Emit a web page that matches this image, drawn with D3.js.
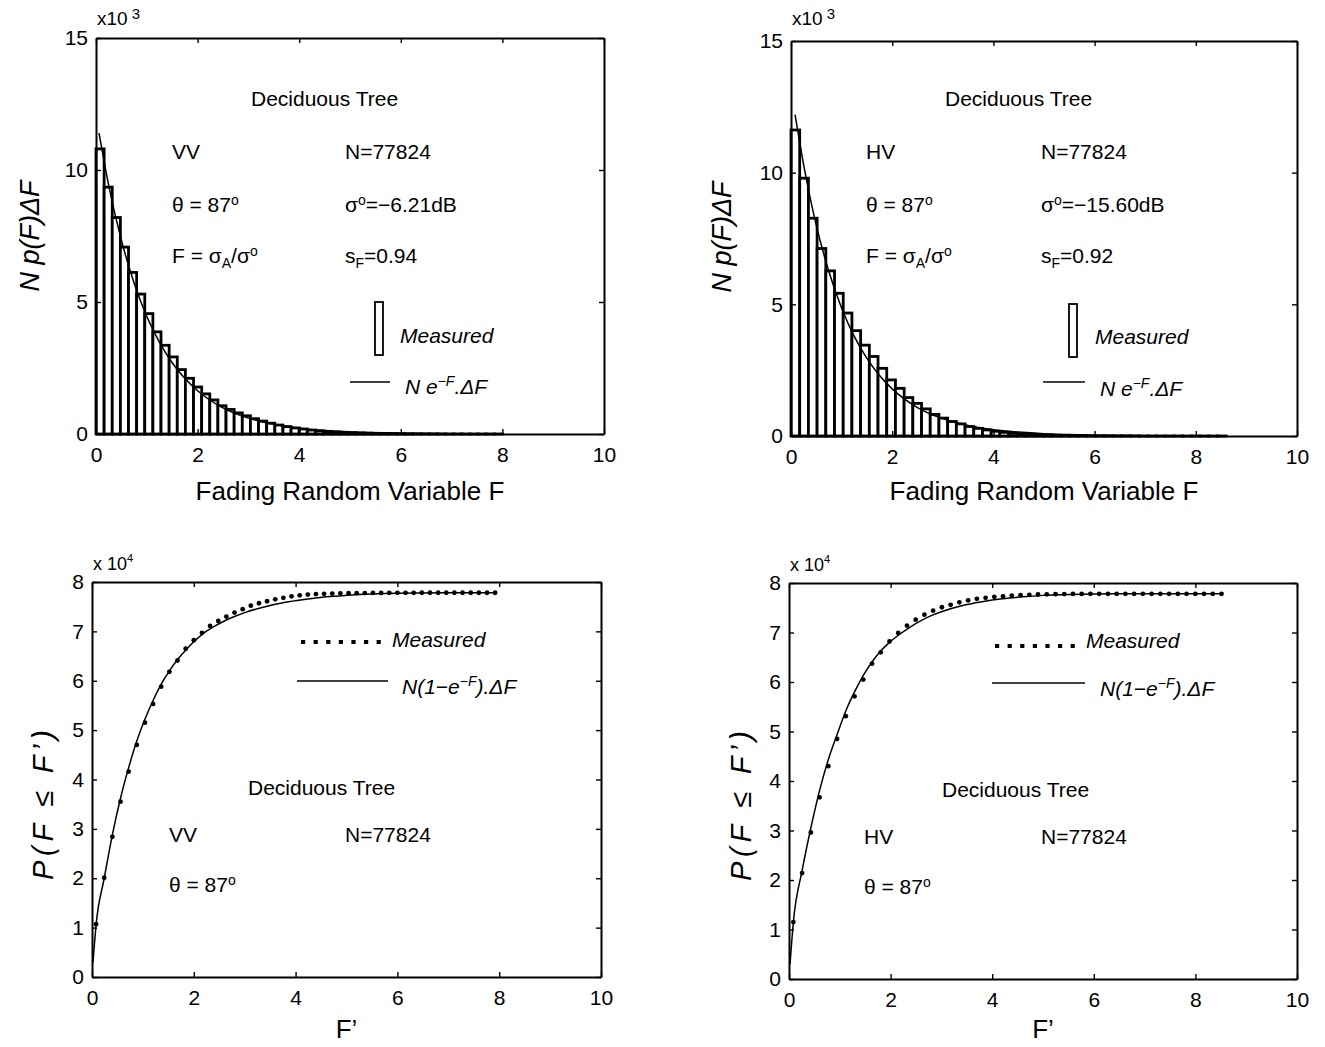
<!DOCTYPE html>
<html><head><meta charset="utf-8">
<script src="https://cdn.jsdelivr.net/npm/d3@7"></script>
<style>
body{margin:0;background:#fff}
svg{display:block}
text{font-family:"Liberation Sans",Arial,Helvetica,sans-serif;fill:#000}
</style>
</head><body>
<svg id="c" width="1325" height="1047"></svg>
<script>
// ---------------- DATA ----------------
const xTicks = [0, 2, 4, 6, 8, 10];
const histYTicks = [0, 5, 10, 15];
const cumYTicks = [0, 1, 2, 3, 4, 5, 6, 7, 8];

const vvBinWidth = 0.16;   // ΔF for VV histogram
const hvBinWidth = 0.172;  // ΔF for HV histogram

// measured histograms (x10^3)
const vvHist = [10.8, 9.35, 8.2, 7.08, 6.12, 5.3, 4.56, 3.87, 3.36, 2.92, 2.44, 2.11, 1.78, 1.52, 1.29, 1.07, 0.93, 0.8, 0.69, 0.58,
  0.49, 0.41, 0.34, 0.28, 0.23, 0.19, 0.15, 0.12, 0.10, 0.08, 0.065, 0.05, 0.04, 0.032, 0.026, 0.02, 0.016, 0.013, 0.01, 0.008,
  0.006, 0.005, 0.004, 0.003, 0.0025, 0.002, 0.0015, 0.001, 0.001, 0.001];
const hvHist = [11.62, 9.79, 8.27, 7.12, 6.27, 5.42, 4.67, 4.0, 3.45, 3.02, 2.57, 2.13, 1.81, 1.46, 1.24, 1.03, 0.82, 0.68, 0.55, 0.46,
  0.36, 0.29, 0.23, 0.18, 0.14, 0.11, 0.085, 0.065, 0.05, 0.04, 0.03, 0.024, 0.018, 0.014, 0.011, 0.009, 0.007, 0.005, 0.004, 0.003,
  0.0025, 0.002, 0.0015, 0.001, 0.001, 0.001, 0.0008, 0.0006, 0.0005, 0.0005];

// theoretical N e^-F ΔF (x10^3)
const vvFitF = [0.06, 0.25, 0.5, 0.75, 1, 1.25, 1.5, 1.75, 2, 2.5, 3, 3.5, 4, 4.5, 5, 5.5, 6, 7, 8];
const vvFitV = [11.4, 9.42, 7.34, 5.72, 4.45, 3.47, 2.7, 2.1, 1.64, 0.99, 0.6, 0.37, 0.22, 0.13, 0.08, 0.05, 0.03, 0.01, 0.004];
const hvFitF = [0.08, 0.25, 0.5, 0.75, 1, 1.25, 1.5, 1.75, 2, 2.5, 3, 3.5, 4, 4.5, 5, 5.5, 6, 7, 8.5];
const hvFitV = [12.2, 10.3, 8.0, 6.24, 4.86, 3.78, 2.95, 2.3, 1.79, 1.08, 0.66, 0.4, 0.24, 0.15, 0.09, 0.054, 0.033, 0.012, 0.003];

// measured cumulative (x10^4), one per histogram bin
const vvCum = [1.07, 2.01, 2.84, 3.55, 4.16, 4.70, 5.15, 5.53, 5.88, 6.18, 6.41, 6.65, 6.82, 6.97, 7.11, 7.21, 7.30, 7.38, 7.45, 7.52,
  7.57, 7.61, 7.65, 7.68, 7.71, 7.73, 7.745, 7.755, 7.76, 7.765, 7.77, 7.772, 7.774, 7.776, 7.778, 7.779, 7.78, 7.78, 7.781, 7.781,
  7.782, 7.782, 7.782, 7.782, 7.782, 7.782, 7.782, 7.782, 7.782, 7.782];
const hvCum = [1.15, 2.14, 2.96, 3.67, 4.30, 4.85, 5.31, 5.71, 6.05, 6.37, 6.60, 6.82, 6.99, 7.14, 7.26, 7.36, 7.44, 7.51, 7.56, 7.61,
  7.65, 7.68, 7.70, 7.72, 7.73, 7.745, 7.755, 7.762, 7.768, 7.772, 7.775, 7.777, 7.779, 7.78, 7.781, 7.782, 7.782, 7.782, 7.782, 7.782,
  7.782, 7.782, 7.782, 7.782, 7.782, 7.782, 7.782, 7.782, 7.782, 7.782];

// theoretical cumulative N(1-e^-F) (x10^4)
const vvCumFitF = [0.02, 0.08, 0.24, 0.4, 0.56, 0.72, 0.88, 1.04, 1.2, 1.36, 1.52, 1.68, 1.84, 2.0, 2.2, 2.4, 2.6, 2.8, 3.0, 3.4, 3.8, 4.2, 4.6, 5, 5.5, 6, 7, 7.9];
const vvCumFitV = [0.3, 1.05, 2.0, 2.88, 3.62, 4.24, 4.78, 5.22, 5.6, 5.93, 6.2, 6.43, 6.62, 6.79, 6.97, 7.1, 7.21, 7.3, 7.38, 7.5, 7.59, 7.65, 7.7, 7.73, 7.755, 7.77, 7.78, 7.782];
const hvCumFitF = [0.02, 0.086, 0.26, 0.43, 0.6, 0.77, 0.95, 1.12, 1.3, 1.46, 1.63, 1.8, 2.0, 2.2, 2.4, 2.6, 2.8, 3.0, 3.4, 3.8, 4.2, 4.6, 5, 5.5, 6, 7, 8.5];
const hvCumFitV = [0.3, 1.15, 2.2, 3.05, 3.8, 4.42, 4.95, 5.42, 5.82, 6.13, 6.4, 6.62, 6.82, 6.98, 7.12, 7.24, 7.34, 7.42, 7.54, 7.62, 7.68, 7.72, 7.75, 7.77, 7.78, 7.782, 7.782];

// ---------------- DRAWING ----------------
const svg = d3.select("#c");
const FONT = "\"Liberation Sans\",Arial,Helvetica,sans-serif";

function rich(g, x, y, parts, size, opts = {}) {
  const t = g.append("text").attr("x", x).attr("y", y)
    .attr("font-size", size)
    .attr("text-anchor", opts.anchor || "start")
    .attr("font-style", opts.italic ? "italic" : "normal");
  let shift = 0;
  parts.forEach(p => {
    const small = p.size || Math.round(size * 0.68);
    const target = p.sup ? -(p.raise || size * 0.42) : p.sub ? size * 0.25 : 0;
    const ts = t.append("tspan").attr("dy", target - shift).text(p.t);
    if (p.sup || p.sub) ts.attr("font-size", small);
    shift = target;
  });
  return t;
}

function panel(cfg) {
  const g = svg.append("g");
  const x = d3.scaleLinear().domain([0, 10]).range([cfg.x0, cfg.x1]);
  const y = d3.scaleLinear().domain([0, cfg.ymax]).range([cfg.y1, cfg.y0]);
  cfg.draw(g, x, y);

  const ax = (gen, tx, ty, labels) => {
    const a = g.append("g").attr("transform", `translate(${tx},${ty})`).call(gen);
    a.selectAll("text").attr("font-size", 21).attr("font-family", FONT).attr("fill", "#000");
    a.selectAll("line").attr("stroke", "#000").attr("stroke-width", 1.4);
    a.select(".domain").attr("stroke", "#000").attr("stroke-width", 2);
    if (!labels) a.selectAll("text").remove();
    return a;
  };
  ax(d3.axisBottom(x).tickValues(xTicks).tickFormat(d3.format("d")).tickSize(-5).tickSizeOuter(0).tickPadding(13), 0, cfg.y1, true);
  ax(d3.axisTop(x).tickValues(xTicks).tickSize(-5).tickSizeOuter(0), 0, cfg.y0, false);
  ax(d3.axisLeft(y).tickValues(cfg.yTicks).tickFormat(d3.format("d")).tickSize(-5).tickSizeOuter(0).tickPadding(8), cfg.x0, 0, true);
  ax(d3.axisRight(y).tickValues(cfg.yTicks).tickSize(-5).tickSizeOuter(0), cfg.x1, 0, false);
  return {g, x, y};
}

function histPanel(cfg) {
  const p = panel(Object.assign({ymax: 15, yTicks: histYTicks, draw: (g, x, y) => {
    g.selectAll("rect.bar").data(cfg.hist).join("rect").attr("class", "bar")
      .attr("x", (d, i) => x(i * cfg.bw))
      .attr("width", (d, i) => x((i + 1) * cfg.bw) - x(i * cfg.bw))
      .attr("y", d => y(d))
      .attr("height", d => y(0) - y(d))
      .attr("fill", "#fff").attr("stroke", "#000").attr("stroke-width", 2.8);
    const line = d3.line().x(d => x(d[0])).y(d => y(d[1])).curve(d3.curveMonotoneX);
    g.append("path").datum(cfg.fitF.map((f, i) => [f, cfg.fitV[i]]))
      .attr("d", line).attr("fill", "none").attr("stroke", "#000").attr("stroke-width", 1.5);
  }}, cfg));
  const g = p.g;
  // exponent label
  rich(g, cfg.x0 + 1, 25, [{t: "x10"}, {t: " 3", sup: true, size: 15, raise: 6}], 19);
  // axis labels
  g.append("text").attr("x", (cfg.x0 + cfg.x1) / 2).attr("y", 500).attr("text-anchor", "middle")
    .attr("font-size", 26).text("Fading Random Variable F");
  g.append("text").attr("transform", `translate(${cfg.ylx},${cfg.yly}) rotate(-90)`)
    .attr("text-anchor", "middle").attr("dy", "0.35em").attr("font-size", 27).attr("font-style", "italic")
    .text("N p(F)ΔF");
  // annotations
  const c1 = cfg.c1, c2 = cfg.c2;
  rich(g, cfg.treeX, 106, [{t: "Deciduous Tree"}], 21);
  rich(g, c1, 159, [{t: cfg.pol}], 21);
  rich(g, c2, 159, [{t: "N=77824"}], 21);
  rich(g, c1, 212, [{t: "θ = 87"}, {t: "o", sup: true, raise: 7}], 21);
  rich(g, c2, 212, [{t: "σ"}, {t: "o", sup: true, raise: 7}, {t: cfg.sigma}], 21);
  rich(g, c1, 263, [{t: "F = σ"}, {t: "A", sub: true}, {t: "/σ"}, {t: "o", sup: true, raise: 7}], 21);
  rich(g, c2, 263, [{t: "s"}, {t: "F", sub: true}, {t: cfg.sf}], 21);
  // legend
  g.append("rect").attr("x", cfg.lgRect[0]).attr("y", cfg.lgRect[1]).attr("width", 8).attr("height", 53)
    .attr("fill", "#fff").attr("stroke", "#000").attr("stroke-width", 1.8);
  rich(g, cfg.lgText1[0], cfg.lgText1[1], [{t: "Measured"}], 21, {italic: true});
  g.append("line").attr("x1", cfg.lgLine[0]).attr("x2", cfg.lgLine[1]).attr("y1", cfg.lgLine[2]).attr("y2", cfg.lgLine[2])
    .attr("stroke", "#000").attr("stroke-width", 1.5);
  rich(g, cfg.lgText2[0], cfg.lgText2[1], [{t: "N e"}, {t: "−F", sup: true, raise: 8}, {t: ".ΔF"}], 21, {italic: true});
}

function cumPanel(cfg) {
  const p = panel(Object.assign({ymax: 8, yTicks: cumYTicks, draw: (g, x, y) => {
    const line = d3.line().x(d => x(d[0])).y(d => y(d[1])).curve(d3.curveMonotoneX);
    g.append("path").datum(cfg.fitF.map((f, i) => [f, cfg.fitV[i]]))
      .attr("d", line).attr("fill", "none").attr("stroke", "#000").attr("stroke-width", 1.5);
    g.selectAll("circle.dot").data(cfg.cum).join("circle").attr("class", "dot")
      .attr("cx", (d, i) => x((i + 0.5) * cfg.bw)).attr("cy", d => y(d)).attr("r", 2.4).attr("fill", "#000");
  }}, cfg));
  const g = p.g;
  rich(g, cfg.x0 + 1, cfg.y0 - 12, [{t: "x 10"}, {t: "4", sup: true, size: 11, raise: 8}], 18);
  g.append("text").attr("x", (cfg.x0 + cfg.x1) / 2).attr("y", 1038).attr("text-anchor", "middle")
    .attr("font-size", 26).text("F’");
  g.append("text").attr("transform", `translate(${cfg.ylx},${cfg.yly}) rotate(-90)`)
    .attr("text-anchor", "middle").attr("dy", "0.35em").attr("font-size", 29).attr("font-style", "italic")
    .attr("textLength", 150).attr("lengthAdjust", "spacing")
    .text("P(F ≤ F’)");
  rich(g, cfg.treeX, cfg.treeY, [{t: "Deciduous Tree"}], 21);
  rich(g, cfg.c1, cfg.treeY + 47, [{t: cfg.pol}], 21);
  rich(g, cfg.c2, cfg.treeY + 47, [{t: "N=77824"}], 21);
  rich(g, cfg.c1, cfg.treeY + 97, [{t: "θ = 87"}, {t: "o", sup: true, raise: 7}], 21);
  // legend
  g.append("line").attr("x1", cfg.lgDots[0]).attr("x2", cfg.lgDots[1]).attr("y1", cfg.lgDots[2]).attr("y2", cfg.lgDots[2])
    .attr("stroke", "#000").attr("stroke-width", 4.2).attr("stroke-dasharray", "4.2 8.4");
  rich(g, cfg.lgText1[0], cfg.lgText1[1], [{t: "Measured"}], 21, {italic: true});
  g.append("line").attr("x1", cfg.lgLine[0]).attr("x2", cfg.lgLine[1]).attr("y1", cfg.lgLine[2]).attr("y2", cfg.lgLine[2])
    .attr("stroke", "#000").attr("stroke-width", 1.5);
  rich(g, cfg.lgText2[0], cfg.lgText2[1], [{t: "N(1−e"}, {t: "−F", sup: true, raise: 8}, {t: ").ΔF"}], 21, {italic: true});
}

histPanel({x0: 96, x1: 604, y0: 38, y1: 434, hist: vvHist, bw: vvBinWidth, fitF: vvFitF, fitV: vvFitV,
  ylx: 30, yly: 236, pol: "VV", sigma: "=−6.21dB", sf: "=0.94", c1: 172, c2: 345, treeX: 251,
  lgRect: [375, 302], lgText1: [400, 343], lgLine: [350, 390, 382], lgText2: [405, 394]});
histPanel({x0: 791, x1: 1297, y0: 41, y1: 436, hist: hvHist, bw: hvBinWidth, fitF: hvFitF, fitV: hvFitV,
  ylx: 722, yly: 237, pol: "HV", sigma: "=−15.60dB", sf: "=0.92", c1: 866, c2: 1041, treeX: 945,
  lgRect: [1069, 304], lgText1: [1095, 344], lgLine: [1043, 1085, 382], lgText2: [1100, 396]});
cumPanel({x0: 92, x1: 601, y0: 582, y1: 977, cum: vvCum, bw: vvBinWidth, fitF: vvCumFitF, fitV: vvCumFitV,
  ylx: 43, yly: 805, pol: "VV", c1: 169, c2: 345, treeX: 248, treeY: 795,
  lgDots: [301, 382, 642], lgText1: [392, 647], lgLine: [297, 388, 681], lgText2: [402, 694]});
cumPanel({x0: 789, x1: 1297, y0: 583, y1: 979, cum: hvCum, bw: hvBinWidth, fitF: hvCumFitF, fitV: hvCumFitV,
  ylx: 741, yly: 806, pol: "HV", c1: 864, c2: 1041, treeX: 942, treeY: 797,
  lgDots: [995, 1078, 646], lgText1: [1086, 648], lgLine: [992, 1085, 683], lgText2: [1100, 696]});
</script>
</body></html>
